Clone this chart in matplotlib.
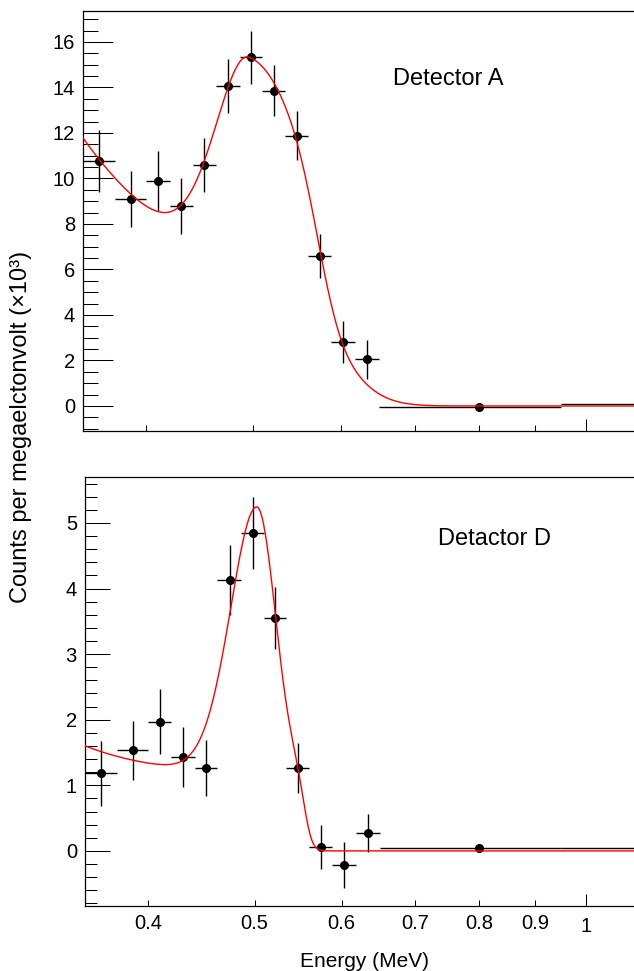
import math
import numpy as np
import matplotlib
matplotlib.use('Agg')
import matplotlib.pyplot as plt
from matplotlib.ticker import FixedLocator, MultipleLocator, NullFormatter, FixedFormatter

plt.rcParams['font.family'] = ['Liberation Sans', 'DejaVu Sans']

# energy bins (MeV), same for both detectors
bin_edges = [0.35, 0.375, 0.40, 0.42, 0.441, 0.4625, 0.4865, 0.5095, 0.5345,
             0.5605, 0.5885, 0.6185, 0.65, 0.95, 1.5]

# counts per MeV (x10^3)
counts_a = [10.77, 9.08, 9.89, 8.79, 10.58, 14.07, 15.33, 13.85, 11.87, 6.59, 2.83, 2.05, -0.06, 0.09]
err_a = [1.35, 1.23, 1.30, 1.21, 1.19, 1.19, 1.17, 1.12, 1.08, 0.96, 0.92, 0.85, 0.05, 0.03]
counts_d = [1.18, 1.535, 1.97, 1.43, 1.26, 4.13, 4.84, 3.55, 1.26, 0.06, -0.22, 0.27, 0.05, 0.04]
err_d = [0.49, 0.45, 0.50, 0.46, 0.43, 0.54, 0.55, 0.47, 0.38, 0.34, 0.35, 0.29, 0.02, 0.02]

# fit parameters: peak amp, mean, sigma left, sigma right, bg const, bg exp amp, bg decay, edge, edge width
fit_a = [9.3396, 0.4955, 0.03336, 0.06454, 4.7806, 7.0593, 0.08258, 0.57319, 0.02]
fit_d = [4.061, 0.5024, 0.0271, 0.0196, 1.156, 0.451, 0.0545, 0.5548, 0.0074]

erfc = np.vectorize(math.erfc)


def fit_func(p, x):
    A, mu, sl, sr, c, d, tau, xc, w = p
    s = np.where(x < mu, sl, sr)
    peak = A * np.exp(-(x - mu) ** 2 / (2 * s ** 2))
    edge = 0.5 * erfc((x - xc) / (math.sqrt(2) * w))
    return peak + (c + d * np.exp(-(x - 0.35) / tau)) * edge


edges = np.array(bin_edges)
x_mid = 0.5 * (edges[:-1] + edges[1:])
x_half = 0.5 * (edges[1:] - edges[:-1])

fig = plt.figure(figsize=(6.34, 9.71), dpi=100)
ax1 = fig.add_axes([83 / 634, 1 - 431 / 971, 1 - 83 / 634, 420 / 971])
ax2 = fig.add_axes([85 / 634, 1 - 906 / 971, 1 - 85 / 634, 429 / 971])

xfit = np.geomspace(0.3507, 1.106, 800)
for ax, y, e, p in [(ax1, counts_a, err_a, fit_a), (ax2, counts_d, err_d, fit_d)]:
    ax.set_xscale('log')
    ax.plot(xfit, fit_func(p, xfit), color='red', lw=1.0, zorder=3)
    ax.errorbar(x_mid, y, xerr=x_half, yerr=e, fmt='o', color='black', ms=5.5,
                elinewidth=1.0, capsize=0, zorder=2)
    ax.set_xlim(0.3507, 1.106)
    ax.spines['right'].set_visible(False)
    for s in ['left', 'top', 'bottom']:
        ax.spines[s].set_linewidth(0.9)
    ax.xaxis.set_major_locator(FixedLocator([1.0]))
    ax.xaxis.set_minor_locator(FixedLocator([0.4, 0.5, 0.6, 0.7, 0.8, 0.9]))
    ax.tick_params(axis='x', which='major', direction='in', length=8.6, width=0.75, top=False, pad=8,
                   labelsize=14.5)
    ax.tick_params(axis='x', which='minor', direction='in', length=4.3, width=0.75, top=False, pad=6,
                   labelsize=14.5)

ax1.set_ylim(-1.1, 17.36)
ax1.yaxis.set_major_locator(MultipleLocator(2))
ax1.yaxis.set_minor_locator(MultipleLocator(0.5))
ax1.tick_params(axis='y', which='major', direction='in', length=21.6, width=0.75, pad=5.8, labelsize=14.5)
ax1.tick_params(axis='y', which='minor', direction='in', length=10.8, width=0.75)
ax1.xaxis.set_major_formatter(NullFormatter())
ax1.xaxis.set_minor_formatter(NullFormatter())

ax2.set_ylim(-0.84, 5.70)
ax2.yaxis.set_major_locator(MultipleLocator(1))
ax2.yaxis.set_minor_locator(MultipleLocator(0.2))
ax2.tick_params(axis='y', which='major', direction='in', length=18, width=0.75, pad=5.8, labelsize=14.5)
ax2.tick_params(axis='y', which='minor', direction='in', length=8.6, width=0.75)
ax2.xaxis.set_major_formatter(FixedFormatter(['1']))
ax2.xaxis.set_minor_formatter(FixedFormatter(['0.4', '0.5', '0.6', '0.7', '0.8', '0.9']))

fig.text(393 / 634, 1 - 85 / 971, 'Detector A', fontsize=17, ha='left', va='baseline')
fig.text(438 / 634, 1 - 545 / 971, 'Detactor D', fontsize=17, ha='left', va='baseline')
fig.text(21 / 634, 1 - 426.7 / 971, 'Counts per megaelctonvolt (×10³)', fontsize=17,
         rotation=90, ha='center', va='center')
fig.text(300 / 634, 1 - 966.7 / 971, 'Energy (MeV)', fontsize=15, ha='left', va='baseline')

fig.savefig('out.png', dpi=100)
